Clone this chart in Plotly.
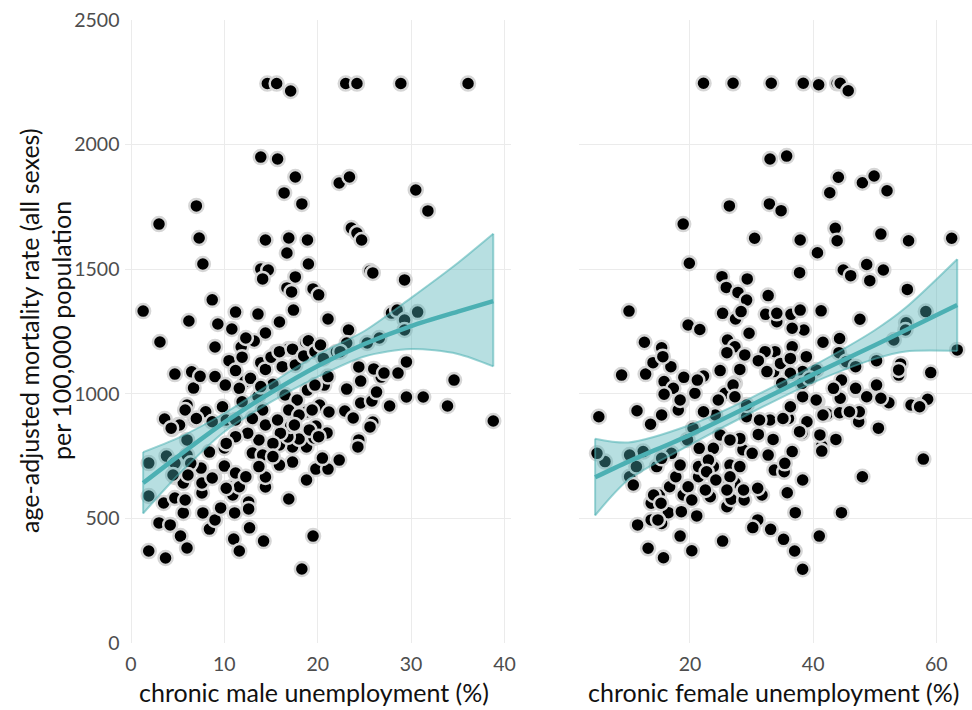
import plotly.graph_objects as go

# ---------------- data ----------------
male_x = [14.6,15.6,17.1,23.0,24.2,28.9,36.1,
13.9,15.7,17.6,16.4,18.3,22.3,23.4,30.5,31.8,7.0,3.0,7.3,7.7,1.3,3.1,8.7,6.2,9.3,10.8,11.2,13.6,14.4,16.9,18.9,16.7,19.0,13.9,14.7,14.1,17.6,16.7,17.2,19.5,20.1,17.4,15.9,14.4,21.1,23.3,23.6,24.2,24.7,25.6,25.9,29.3,27.9,28.5,30.7,29.3,29.3,26.6,25.3,9.0,11.8,13.2,12.3,15.6,16.9,18.0,18.7,20.2,22.0,23.1,
4.7,6.5,6.7,3.6,4.4,5.1,6.0,5.8,6.8,6.0,3.8,1.9,1.9,4.7,4.7,5.6,6.0,3.5,4.7,5.6,3.0,4.2,5.3,6.0,1.9,3.7,7.7,8.4,9.0,9.6,7.6,7.6,7.5,8.4,8.9,10.0,10.8,11.3,11.2,11.1,11.0,11.6,12.6,12.6,12.7,14.2,14.4,14.4,13.0,14.1,13.7,11.2,10.0,8.7,16.9,17.3,18.3,19.5,18.8,18.8,17.3,18.0,15.9,16.8,17.1,18.8,17.3,19.8,21.1,20.5,22.3,19.6,21.0,19.8,20.2,21.2,22.9,23.8,23.1,24.4,24.3,24.6,24.6,24.4,25.9,25.6,25.8,26.3,26.8,26.0,27.1,27.7,28.6,29.5,29.5,31.3,33.9,34.6,38.8,
7.4,9.0,10.1,10.5,11.2,11.9,12.2,12.8,13.9,14.4,15.0,15.9,16.2,17.3,17.6,18.5,19.0,19.7,20.3,15.2,16.5,17.8,18.9,16.9,18.0,19.4,17.5,19.1,20.1,16.0,15.2,12.5,11.2,10.2,8.0,9.8,10.2,8.7,7.0,5.2,4.3,11.6,11.9,13.6,14.1,13.0,14.4,15.7,11.2,13.9,
4.5,5.8,10.9,11.6,15.9,15.2,13.7,12.3,10.2,6.4,6.1,
22.4,20.6,20.7,21.1,19.7]
male_y = [2245,2245,2215,2245,2245,2245,2245,
1950,1942,1870,1806,1762,1846,1870,1818,1734,1754,1681,1625,1521,1332,1208,1377,1292,1280,1260,1328,1320,1617,1625,1617,1565,1521,1501,1497,1461,1469,1425,1409,1421,1397,1336,1288,1244,1300,1256,1665,1645,1617,1493,1485,1457,1324,1336,1328,1296,1256,1224,1204,1188,1188,1212,1224,1168,1180,1156,1208,1184,1168,1204,
1079,1088,1023,899,859,875,955,935,895,815,750,722,590,722,666,642,754,562,582,522,482,474,429,381,369,341,522,457,494,542,602,642,702,766,666,710,626,622,682,522,417,369,566,538,462,409,626,666,762,754,815,831,783,662,578,726,297,429,654,787,787,819,795,827,871,927,923,698,698,742,734,823,843,871,955,927,931,903,1019,815,787,963,1051,1108,887,867,971,1007,1067,1100,1083,951,1083,1128,987,987,951,1055,891,
1070,1069,1035,1133,1093,1147,1049,1062,1125,1098,1147,1169,1109,1179,1116,1152,1213,1169,1196,1038,995,975,1015,935,915,935,875,855,828,842,801,842,828,801,928,948,895,888,901,875,862,1022,968,989,935,901,875,895,895,1029,
674,574,594,627,714,748,708,667,621,721,674,
1169,1142,1035,1069,1035]

female_x = [22.2,27.0,33.2,38.4,40.9,43.9,44.4,45.7,
33.0,35.7,44.1,48.0,49.9,52.0,42.7,26.4,32.9,34.8,18.9,43.6,43.9,51.0,55.5,62.5,30.5,37.9,40.7,19.9,37.8,44.9,46.1,48.7,49.2,51.4,55.3,25.2,29.3,25.9,27.8,29.2,32.7,10.1,25.3,27.4,28.3,32.3,34.1,36.4,37.9,41.3,47.6,58.3,55.1,55.0,53.1,63.4,19.7,21.6,12.6,15.4,29.6,38.5,41.6,44.3,26.1,27.3,36.6,33.8,32.2,
8.9,12.8,14.0,16.9,15.8,17.3,19.0,20.8,22.2,18.6,18.1,15.4,11.4,13.6,5.2,24.9,27.3,28.1,31.1,33.6,34.7,36.3,38.9,44.2,50.3,54.2,53.9,59.1,50.3,52.3,55.9,57.5,58.6,50.6,57.9,48.0,44.6,41.0,38.3,37.0,35.2,33.1,31.0,30.2,25.3,20.3,15.7,13.2,18.4,11.5,13.7,15.4,16.5,18.6,21.1,13.7,15.0,18.9,16.7,17.7,19.7,18.4,23.3,26.0,26.7,28.8,31.7,31.0,27.3,26.0,21.4,21.4,23.8,24.1,26.5,28.6,30.1,31.1,32.7,33.7,35.3,35.8,37.1,38.3,36.6,38.2,39.0,41.4,41.4,43.7,42.3,40.7,44.3,47.4,44.4,46.9,48.7,44.6,38.3,36.0,33.0,33.5,25.7,24.1,24.9,23.8,21.5,20.5,19.6,17.0,14.6,12.4,10.2,10.2,6.2,4.9,11.3,29.2,31.3,28.1,29.2,27.0,22.2,23.0,28.1,26.5,
15.6,21.2,15.8,18.4,26.0,28.9,32.5,24.6,27.3,
10.8,15.4,14.1,15.3,14.8,20.3,22.7,22.5,24.2,26.5,26.0,28.7,35.4,
45.4,46.9,53.9,57.3,46.9,51.0,43.3,47.5,45.9,41.6,40.5,36.3,35.1,37.8,41.1,38.3,40.5,36.3,34.9,38.2,39.4,36.6,34.1]
female_y = [2246,2246,2246,2246,2240,2246,2246,2216,
1942,1954,1869,1847,1874,1815,1807,1754,1762,1735,1681,1664,1614,1641,1614,1624,1624,1617,1566,1524,1486,1497,1474,1519,1454,1497,1419,1470,1461,1427,1407,1376,1394,1332,1323,1300,1330,1319,1289,1319,1336,1333,1299,1330,1285,1256,1216,1176,1276,1258,1207,1185,1243,1256,1207,1222,1216,1189,1189,1169,1169,
1075,1079,1125,1109,1049,1022,1066,1002,1071,968,935,915,932,878,908,1093,1042,1098,1133,1089,1122,1142,1149,1165,1133,1120,1075,1085,1035,964,955,955,978,862,738,667,523,429,296,369,416,456,494,463,409,370,342,380,429,474,494,480,523,527,510,561,594,594,627,667,627,714,587,547,577,574,594,621,643,638,667,708,708,788,714,775,761,837,754,694,687,603,523,654,768,842,888,791,770,817,919,968,924,888,982,1015,988,1055,988,901,895,817,1002,915,835,781,781,862,815,761,708,768,754,667,728,761,708,908,895,821,955,1035,928,734,708,667,
1149,1055,998,975,1165,1156,1089,975,988,
634,741,594,561,494,574,687,614,654,815,614,614,721,
1129,1109,1096,948,1022,982,1022,928,928,915,975,948,901,848,835,1089,1096,1082,1042,1042,1062,1263,1323]

# smoothed fit with confidence band
fit_m_x = [1.3, 5, 10, 15, 20, 25, 30, 35, 38.8]
fit_m_y = [642, 748, 885, 1005, 1112, 1200, 1272, 1330, 1372]
fit_m_lo = [520, 672, 848, 968, 1068, 1150, 1180, 1160, 1110]
fit_m_hi = [766, 822, 922, 1042, 1158, 1252, 1385, 1525, 1642]

fit_f_x = [4.6, 10, 20, 30, 40, 50, 55, 63.4]
fit_f_y = [665, 728, 835, 955, 1078, 1195, 1255, 1356]
fit_f_lo = [512, 655, 795, 925, 1045, 1140, 1170, 1172]
fit_f_hi = [820, 805, 875, 985, 1112, 1255, 1345, 1540]

y_ticks = [0, 500, 1000, 1500, 2000, 2500]
male_ticks = [0, 10, 20, 30, 40]
female_ticks = [20, 40, 60]

y_title_1 = "age-adjusted mortality rate (all sexes)"
y_title_2 = "per 100,000 population"
x_title_m = "chronic male unemployment (%)"
x_title_f = "chronic female unemployment (%)"

# ---------------- styling ----------------
FONT = "Lato, 'Open Sans', sans-serif"
TEAL = "#4cb0b3"
BAND_FILL = "rgba(76,176,179,0.40)"
BAND_EDGE = "rgba(76,176,179,0.55)"
GRID = "#ebebeb"

W, H = 972, 710
TOP, BOTTOM = 20, 643

fig = go.Figure()

def add_panel(xs, ys, fx, fy, flo, fhi, xa, ya):
    fig.add_trace(go.Scatter(
        x=xs, y=ys, mode="markers", xaxis=xa, yaxis=ya, showlegend=False,
        marker=dict(size=14, color="black", line=dict(color="#d6d6d6", width=2.5)),
        hoverinfo="skip"))
    # lower edge, then upper edge filled down to it
    fig.add_trace(go.Scatter(
        x=fx, y=flo, mode="lines",
        line=dict(color=BAND_EDGE, width=2, shape="spline", smoothing=0.8),
        xaxis=xa, yaxis=ya, showlegend=False, hoverinfo="skip"))
    fig.add_trace(go.Scatter(
        x=fx, y=fhi, mode="lines", fill="tonexty", fillcolor=BAND_FILL,
        line=dict(color=BAND_EDGE, width=2, shape="spline", smoothing=0.8),
        xaxis=xa, yaxis=ya, showlegend=False, hoverinfo="skip"))
    # vertical end caps of the band
    fig.add_trace(go.Scatter(
        x=[fx[0], fx[0], None, fx[-1], fx[-1]],
        y=[flo[0], fhi[0], None, flo[-1], fhi[-1]], mode="lines",
        line=dict(color=BAND_EDGE, width=2),
        xaxis=xa, yaxis=ya, showlegend=False, hoverinfo="skip"))
    fig.add_trace(go.Scatter(
        x=fx, y=fy, mode="lines", line=dict(color=TEAL, width=4.5, shape="spline", smoothing=0.8),
        xaxis=xa, yaxis=ya, showlegend=False, hoverinfo="skip"))

add_panel(male_x, male_y, fit_m_x, fit_m_y, fit_m_lo, fit_m_hi, "x", "y")
add_panel(female_x, female_y, fit_f_x, fit_f_y, fit_f_lo, fit_f_hi, "x2", "y2")

tickfont = dict(family=FONT, size=19.5, color="#4d4d4d")
common_x = dict(showgrid=True, gridcolor=GRID, gridwidth=1, zeroline=False, showline=False,
                ticks="outside", ticklen=4, tickcolor="rgba(0,0,0,0)", tickfont=tickfont)

fig.update_layout(
    width=W, height=H,
    margin=dict(l=0, r=0, t=TOP, b=H - BOTTOM, autoexpand=False),
    paper_bgcolor="white", plot_bgcolor="white",
    font=dict(family=FONT),
    xaxis=dict(domain=[125.4 / W, 511 / W], range=[-0.6, 40.7], tickvals=male_ticks, **common_x),
    xaxis2=dict(domain=[579 / W, 1.0], range=[1.98, 65.8], tickvals=female_ticks, **common_x),
    yaxis=dict(domain=[0, 1], range=[0, 2500], tickvals=y_ticks, showgrid=True, gridcolor=GRID,
               zeroline=False, showline=False, ticks="outside", ticklen=1,
               tickcolor="rgba(0,0,0,0)", tickfont=tickfont),
    yaxis2=dict(domain=[0, 1], range=[0, 2500], tickvals=y_ticks, showgrid=True, gridcolor=GRID,
                zeroline=False, showline=False, showticklabels=False, anchor="x2"),
)

tfont = dict(family=FONT, size=25, color="#111111")
plot_h = BOTTOM - TOP
yc = (BOTTOM - 331) / plot_h
fig.add_annotation(text=y_title_1, x=29 / W, y=yc, xref="paper", yref="paper",
                   textangle=-90, showarrow=False, font=tfont, xanchor="center", yanchor="middle")
fig.add_annotation(text=y_title_2, x=61 / W, y=yc, xref="paper", yref="paper",
                   textangle=-90, showarrow=False, font=tfont, xanchor="center", yanchor="middle")
xt_y = (BOTTOM - 692) / plot_h
fig.add_annotation(text=x_title_m, x=314 / W, y=xt_y, xref="paper", yref="paper",
                   showarrow=False, font=tfont, xanchor="center", yanchor="middle")
fig.add_annotation(text=x_title_f, x=774 / W, y=xt_y, xref="paper", yref="paper",
                   showarrow=False, font=tfont, xanchor="center", yanchor="middle")

fig.write_html("out.html", config={"displayModeBar": False})

# remove the browser's default page margin so the figure sits at (0, 0)
with open("out.html", "r", encoding="utf-8") as f:
    html = f.read()
html = html.replace("<head>", "<head><style>html,body{margin:0;padding:0;overflow:hidden;}</style>", 1)
with open("out.html", "w", encoding="utf-8") as f:
    f.write(html)
